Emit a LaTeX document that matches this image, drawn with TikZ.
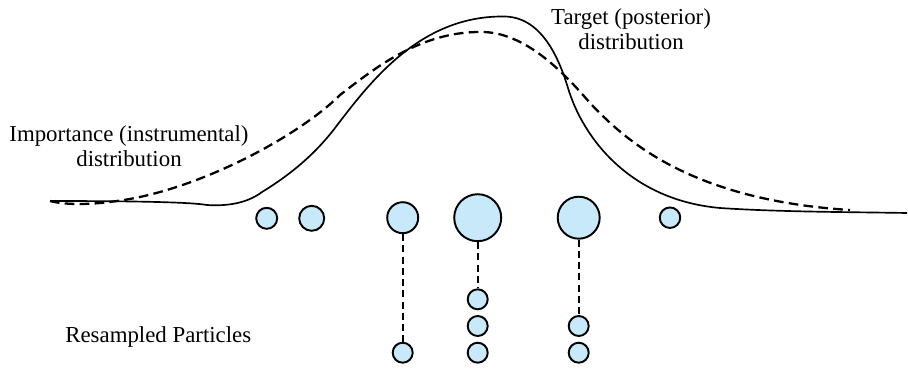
\documentclass[tikz,border=0pt]{standalone}
\usepackage{fontspec}
\setmainfont{Liberation Serif}
\begin{document}
\begin{tikzpicture}[x=0.02cm,y=-0.02cm,
  particle/.style={circle,draw=black,line width=1.1pt,fill=partfill,inner sep=0pt},
  lbl/.style={font=\fontsize{13}{14.2}\selectfont,align=center,inner sep=0pt},
  link/.style={draw=black,line width=1.1pt,dash pattern=on 4pt off 2.4pt},
  target/.style={line width=0.95pt,line join=round},
  importance/.style={line width=1.3pt,dash pattern=on 5.5pt off 3pt}]
\definecolor{partfill}{RGB}{199,233,249}
\useasboundingbox (0,0) rectangle (908,368);
\fill[white] (0,0) rectangle (908,368);
% target (solid)
\draw[target] (50,201) .. controls (130,201) and (190,202) .. (207,205)
  .. controls (222,206) and (245,205) .. (262,192)
  .. controls (285,178) and (312,158) .. (335,128)
  .. controls (370,82) and (420,16) .. (503,16.5)
  .. controls (540,16) and (558,55) .. (568,88)
  .. controls (583,138) and (630,200) .. (720,208)
  .. controls (780,212) and (850,212) .. (907,213);
% importance (dashed)
\draw[importance] (50,201) .. controls (65,205) and (90,205) .. (117,201)
  .. controls (200,190) and (300,135) .. (340,95)
  .. controls (375,68) and (420,32) .. (480,32)
  .. controls (525,31) and (565,74) .. (590,103)
  .. controls (625,140) and (690,200) .. (850,210);
% labels
\node[lbl] (tlabel) at (631,29) {Target (posterior)\\distribution};
\node[lbl] (ilabel) at (129,146) {Importance (instrumental)\\distribution};
\node[lbl,anchor=west] (rlabel) at (65,337) {Resampled Particles};
% particles
\node[particle,minimum size=0.42cm] (p1) at (266.7,218.3) {};
\node[particle,minimum size=0.50cm] (p2) at (311.7,218.3) {};
\node[particle,minimum size=0.62cm] (p3) at (402.7,217.7) {};
\node[particle,minimum size=0.94cm] (p4) at (477.7,217.7) {};
\node[particle,minimum size=0.84cm] (p5) at (578.7,217.7) {};
\node[particle,minimum size=0.41cm] (p6) at (670,217.7) {};
% resampled
\node[particle,minimum size=0.40cm] (r1) at (402.7,352.7) {};
\node[particle,minimum size=0.40cm] (r2) at (477.7,299.3) {};
\node[particle,minimum size=0.40cm] (r3) at (477.7,326) {};
\node[particle,minimum size=0.40cm] (r4) at (477.7,352.7) {};
\node[particle,minimum size=0.40cm] (r5) at (578.7,326) {};
\node[particle,minimum size=0.40cm] (r6) at (578.7,352.7) {};
% links
\draw[link] (p3.south) -- (r1.north);
\draw[link] (p4.south) -- (r2.north);
\draw[link] (p5.south) -- (r5.north);
\end{tikzpicture}
\end{document}
